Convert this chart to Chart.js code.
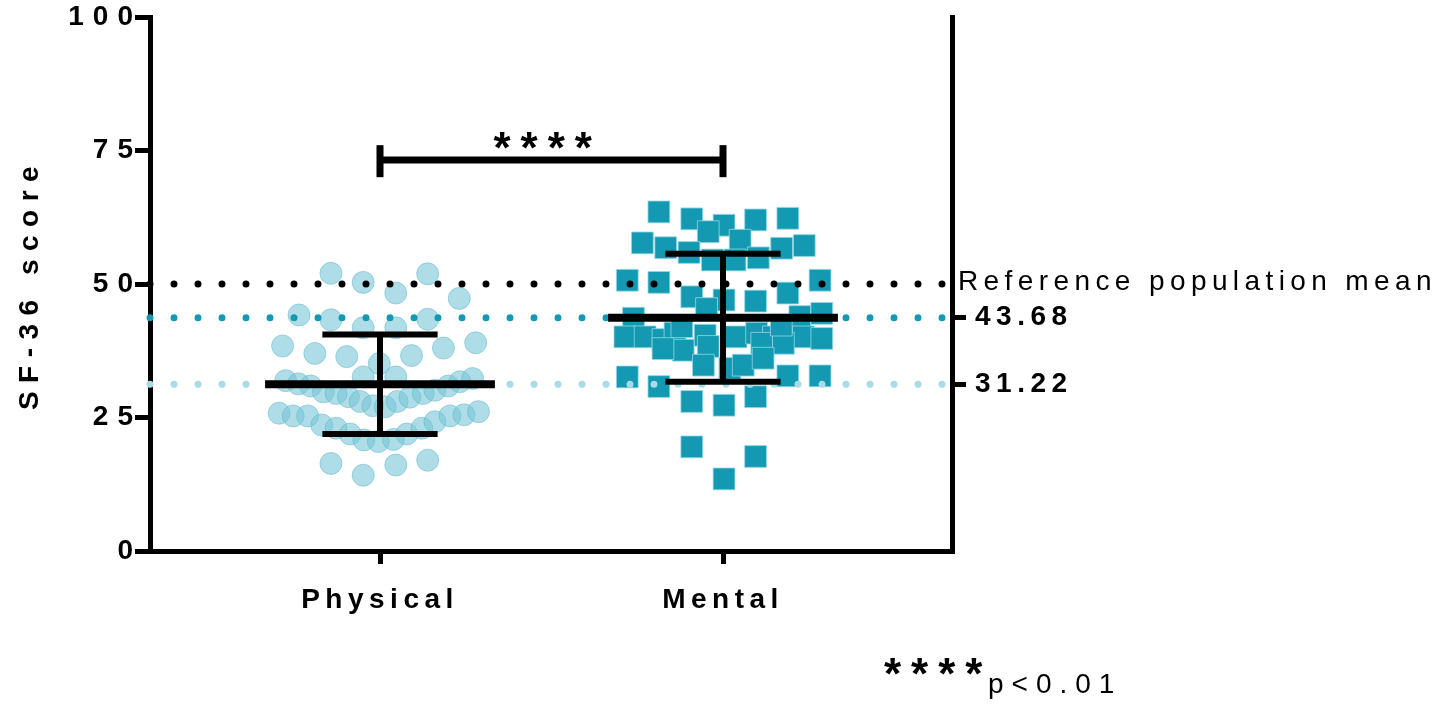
<!DOCTYPE html>
<html>
<head>
<meta charset="utf-8">
<title>SF-36 score</title>
<script src="https://cdn.jsdelivr.net/npm/chart.js@4.4.1/dist/chart.umd.min.js"></script>
<style>
  html, body { margin: 0; padding: 0; background: #fff; }
  #wrap { width: 1450px; height: 704px; }
</style>
</head>
<body>
<div id="wrap"><canvas id="c" width="1450" height="704"></canvas></div>
<script>
// Groups on the x axis
const categories = ['Physical', 'Mental'];

// Physical component scores: horizontal spread (category units) and score
const physicalSpread = [
  -0.143, -0.049, 0.139, 0.046, 0.231, -0.236, -0.143, -0.049, 0.046, 0.139,
  -0.284, -0.190, -0.097, -0.002, 0.092, 0.185, 0.279, -0.049, 0.046,
  -0.275, -0.238, -0.202, -0.165, -0.128, -0.092, -0.058, -0.021, 0.015, 0.050,
  0.087, 0.126, 0.160, 0.199, 0.233, 0.270,
  -0.294, -0.253, -0.211, -0.170, -0.128, -0.087, -0.047, -0.005, 0.039, 0.078,
  0.122, 0.160, 0.204, 0.245, 0.287,
  -0.143, -0.049, 0.046, 0.139
];
const physicalScores = [
  52.0, 50.3, 51.9, 48.3, 47.3, 44.2, 43.3, 41.8, 41.8, 43.4,
  38.4, 37.0, 36.4, 35.1, 36.6, 38.0, 39.0, 32.6, 32.6,
  31.9, 31.3, 30.9, 29.8, 29.5, 28.9, 28.0, 27.2, 27.0, 28.0,
  28.8, 29.5, 30.1, 30.9, 31.7, 32.3,
  25.8, 25.3, 25.3, 23.6, 23.0, 21.9, 20.8, 20.5, 20.9, 21.9,
  23.0, 24.2, 25.3, 25.5, 26.1,
  16.4, 14.2, 16.1, 17.0
];

// Mental component scores: horizontal spread (category units) and score
const mentalSpread = [
  -0.187, -0.091, 0.003, 0.095, 0.189, -0.043, 0.050, -0.235, -0.167, -0.099,
  0.171, 0.237, -0.031, 0.035, 0.103, -0.279, -0.187, 0.283, -0.091, 0.003,
  0.095, 0.189, -0.261, -0.048, 0.224, 0.288, -0.286, -0.227, -0.175, -0.140,
  -0.052, 0.038, 0.098, 0.147, 0.234, 0.288, -0.116, -0.043, 0.113, 0.176,
  -0.175, -0.057, 0.020, 0.059, 0.117, -0.279, -0.187, 0.189, 0.283, -0.091,
  0.003, 0.095, -0.091, 0.095, 0.003, -0.120, 0.170
];
const mentalScores = [
  63.5, 62.2, 61.0, 62.0, 62.3, 59.8, 58.2, 57.7, 56.8, 55.9,
  56.7, 57.2, 54.5, 54.5, 54.9, 50.7, 50.3, 50.7, 47.6, 47.0,
  46.8, 48.3, 43.6, 45.4, 43.9, 44.5, 40.1, 40.1, 39.6, 40.8,
  40.4, 40.1, 40.8, 40.1, 40.1, 39.8, 37.6, 38.3, 38.9, 38.9,
  37.9, 34.8, 34.2, 34.8, 36.1, 32.6, 30.8, 32.8, 32.8, 28.0,
  27.3, 28.9, 19.5, 17.7, 13.5, 42.0, 42.3
];

// Group summaries
const groupMeans = [31.22, 43.68];
const groupSD = [9.3, 12.0];
const referenceMean = 50;
const yTicks = [0, 25, 50, 75, 100];
const bracket = { low: 70, level: 73.2, high: 76 };
const significance = '****';
const footnote = 'p<0.01';

// ---------------------------------------------------------------
const FONT = "'Liberation Sans', Arial, Helvetica, sans-serif";
const TEAL = '#1399b2';
const LIGHT = '#a9dbe5';
const X_MIN = 1 - 230 / 343;
const X_MAX = 2 + 229 / 343;
const MEAN_HALF = 0.335;
const CAP_HALF = 0.168;

Chart.defaults.color = '#000';
Chart.defaults.font.family = FONT;

function segment(x1, y1, x2, y2, width, color) {
  return {
    data: [{ x: x1, y: y1 }, { x: x2, y: y2 }],
    showLine: true,
    borderColor: color || '#000',
    borderWidth: width,
    pointRadius: 0,
    pointHoverRadius: 0,
    order: 1,
    clip: false
  };
}

function dotted(y, color) {
  return {
    data: [{ x: X_MIN, y: y }, { x: X_MAX, y: y }],
    showLine: true,
    borderColor: color,
    borderWidth: 7,
    borderDash: [0, 24],
    borderCapStyle: 'round',
    pointRadius: 0,
    order: 5,
    clip: false
  };
}

const datasets = [];

datasets.push({
  label: categories[0],
  data: physicalSpread.map((d, i) => ({ x: 1 + d, y: physicalScores[i] })),
  pointStyle: 'circle',
  pointRadius: 11,
  backgroundColor: 'rgba(118,197,214,0.58)',
  borderColor: 'rgba(100,185,205,0.55)',
  borderWidth: 1,
  order: 10
});

datasets.push({
  label: categories[1],
  data: mentalSpread.map((d, i) => ({ x: 2 + d, y: mentalScores[i] })),
  pointStyle: 'rect',
  pointRadius: 15.4,
  backgroundColor: TEAL,
  borderColor: 'rgba(150,215,228,0.8)',
  borderWidth: 1,
  order: 9
});

datasets.push(dotted(referenceMean, '#000'));
datasets.push(dotted(groupMeans[1], TEAL));
datasets.push(dotted(groupMeans[0], LIGHT));

groupMeans.forEach((m, i) => {
  const cx = i + 1;
  const lo = m - groupSD[i];
  const hi = m + groupSD[i];
  datasets.push(segment(cx - MEAN_HALF, m, cx + MEAN_HALF, m, 8));
  datasets.push(segment(cx, lo, cx, hi, 6));
  datasets.push(segment(cx - CAP_HALF, hi, cx + CAP_HALF, hi, 6));
  datasets.push(segment(cx - CAP_HALF, lo, cx + CAP_HALF, lo, 6));
});

// significance bracket between the two groups
datasets.push(segment(1, bracket.level, 2, bracket.level, 7));
datasets.push(segment(1, bracket.low, 1, bracket.high, 7));
datasets.push(segment(2, bracket.low, 2, bracket.high, 7));

// run one of a scale's draw steps with its own letter spacing
function spaced(scale, method, spacing) {
  const key = '_spaced_' + method;
  if (scale[key]) return;
  const original = scale[method].bind(scale);
  scale[method] = function (...args) {
    const prev = this.ctx.letterSpacing;
    this.ctx.letterSpacing = spacing;
    original(...args);
    this.ctx.letterSpacing = prev;
  };
  scale[key] = true;
}

// scales keep their edge padding at zero so the plot area sits exactly where the layout puts it
function noEdgePadding(s) {
  s.paddingTop = 0;
  s.paddingBottom = 0;
  s.paddingLeft = 0;
  s.paddingRight = 0;
}

const annotations = {
  id: 'annotations',
  beforeDraw(chart) {
    chart.ctx.letterSpacing = '5.5px';
    spaced(chart.scales.y, 'drawTitle', '8.5px');
    spaced(chart.scales.y, 'drawLabels', '9px');
  },
  afterDraw(chart) {
    const ctx = chart.ctx;
    const y = chart.scales.y;
    const x = chart.scales.x;
    ctx.save();
    ctx.fillStyle = '#000';
    ctx.textAlign = 'left';

    ctx.font = '28px ' + FONT;
    ctx.letterSpacing = '5.4px';
    ctx.textBaseline = 'middle';
    ctx.fillText('Reference population mean', chart.chartArea.right + 6, y.getPixelForValue(referenceMean) - 2);

    ctx.textBaseline = 'alphabetic';
    ctx.font = 'bold 44px ' + FONT;
    ctx.letterSpacing = '10px';
    const mid = (x.getPixelForValue(1) + x.getPixelForValue(2)) / 2;
    ctx.fillText(significance, mid - 58, y.getPixelForValue(bracket.high) + 18);

    ctx.fillText(significance, 884, 689);
    ctx.font = '28px ' + FONT;
    ctx.letterSpacing = '8px';
    ctx.fillText(footnote, 988, 693);
    ctx.restore();
    ctx.letterSpacing = '0px';
  }
};

new Chart(document.getElementById('c'), {
  type: 'scatter',
  data: { datasets },
  plugins: [annotations],
  options: {
    responsive: false,
    animation: false,
    events: [],
    layout: { padding: { top: 17, left: 0, right: 0, bottom: 0 } },
    plugins: { legend: { display: false }, tooltip: { enabled: false } },
    scales: {
      x: {
        type: 'linear',
        position: 'bottom',
        min: X_MIN,
        max: X_MAX,
        afterBuildTicks: s => { s.ticks = categories.map((c, i) => ({ value: i + 1 })); },
        afterFit: s => { s.height = 153; noEdgePadding(s); },
        ticks: {
          autoSkip: false,
          maxRotation: 0,
          padding: 19,
          font: { size: 28, weight: 'bold' },
          callback: v => categories[Math.round(v) - 1]
        },
        grid: { drawOnChartArea: false, drawTicks: true, tickLength: 13, lineWidth: 5, tickWidth: 5, color: '#000' },
        border: { display: true, width: 5, color: '#000' }
      },
      y: {
        position: 'left',
        min: 0,
        max: 100,
        afterBuildTicks: s => { s.ticks = yTicks.map(v => ({ value: v })); },
        afterFit: s => { s.width = 150; noEdgePadding(s); },
        ticks: { autoSkip: false, padding: -7, font: { size: 28, weight: 'bold' } },
        grid: { drawOnChartArea: false, drawTicks: true, tickLength: 15, lineWidth: 5, tickWidth: 5, color: '#000' },
        border: { display: true, width: 5, color: '#000' },
        title: {
          display: true,
          text: 'SF-36 score',
          font: { size: 28, weight: 'bold' },
          padding: { top: 13, bottom: 0 }
        }
      },
      y2: {
        position: 'right',
        min: 0,
        max: 100,
        afterBuildTicks: s => { s.ticks = [groupMeans[0], groupMeans[1]].map(v => ({ value: v })); },
        afterFit: s => { s.width = 1450 - 952; noEdgePadding(s); },
        ticks: { autoSkip: false, padding: 9, font: { size: 28, weight: 'bold' }, callback: v => v.toFixed(2) },
        grid: { drawOnChartArea: false, drawTicks: true, tickLength: 14, lineWidth: 5, tickWidth: 5, color: '#000' },
        border: { display: true, width: 5, color: '#000' }
      }
    }
  }
});
</script>
</body>
</html>
